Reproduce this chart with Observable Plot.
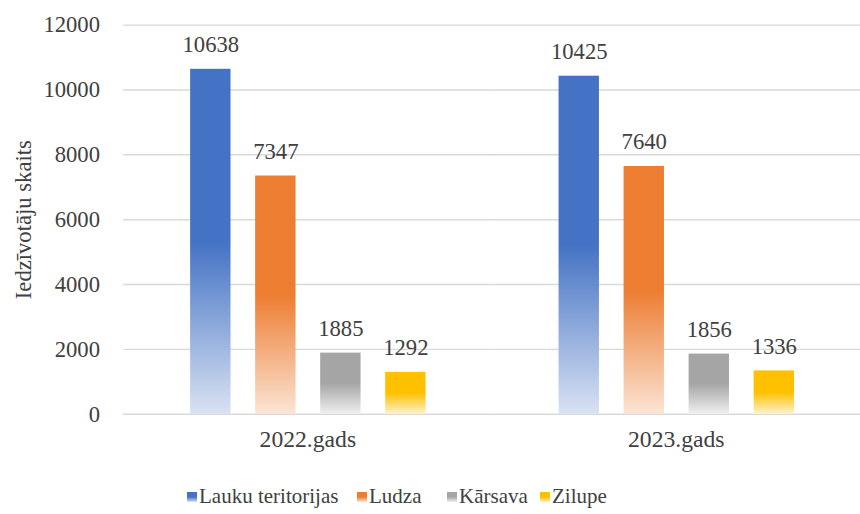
<!DOCTYPE html>
<html>
<head>
<meta charset="utf-8">
<script src="https://cdn.jsdelivr.net/npm/d3@7"></script>
<script src="https://cdn.jsdelivr.net/npm/@observablehq/plot@0.6"></script>
<style>
  body { margin: 0; background: #fff; overflow: hidden; width: 860px; height: 514px; }
  #chart { position: relative; width: 860px; height: 514px; }
  .legend { position: absolute; left: 0; top: 484px; width: 860px; height: 28px; font-family: "Liberation Serif", "Times New Roman", serif; font-size: 21px; color: #404040; }
  .legend .item { position: absolute; top: 0; display: flex; align-items: center; white-space: nowrap; }
  .legend .sw { width: 10px; height: 10px; margin-right: 2px; }
</style>
</head>
<body>
<div id="chart"></div>
<script>
const years = ["2022.gads", "2023.gads"];
const series = ["Lauku teritorijas", "Ludza", "Kārsava", "Zilupe"];
const values2022 = [10638, 7347, 1885, 1292];
const values2023 = [10425, 7640, 1856, 1336];
const colors = ["#4472C4", "#ED7D31", "#A5A5A5", "#FFC000"];
const lightColors = ["#D9E2F3", "#FBE4D5", "#F0F0F0", "#FFF2CC"];
const yTicks = [0, 2000, 4000, 6000, 8000, 10000, 12000];

const data = [];
[values2022, values2023].forEach((vals, yi) => {
  vals.forEach((v, si) => data.push({year: years[yi], series: series[si], value: v, grad: `url(#grad${si})`}));
});

const font = "'Liberation Serif', 'Times New Roman', serif";

const plot = Plot.plot({
  width: 873,
  height: 470,
  marginLeft: 125,
  marginRight: 0,
  marginTop: 25,
  marginBottom: 50,
  style: {fontFamily: font, fontSize: "23px", color: "#404040", background: "white"},
  fx: {domain: years, padding: 0, label: null},
  x: {domain: series, paddingInner: 0.38, paddingOuter: 1.02, axis: null},
  y: {domain: [0, 12000], ticks: yTicks, label: "Iedzīvotāju skaits"},
  color: {type: "identity"},
  marks: [
    Plot.gridY(yTicks.filter(t => t > 0), {stroke: "#d9d9d9", strokeOpacity: 1, strokeWidth: 1.5}),
    Plot.ruleY([0], {stroke: "#d9d9d9", strokeWidth: 1.5}),
    Plot.axisY({ticks: yTicks, tickSize: 0, tickPadding: 24, tickFormat: d => String(d), label: "Iedzīvotāju skaits", labelArrow: false, labelAnchor: "center", labelOffset: 110, fontSize: 23, fill: "#404040"}),
    Plot.axisFx({anchor: "bottom", tickSize: 0, tickPadding: 16, label: null, fontSize: 24, fill: "#404040"}),
    Plot.barY(data, {fx: "year", x: "series", y: "value", fill: "grad"}),
    Plot.text(data, {fx: "year", x: "series", y: "value", text: d => String(d.value), dy: -25, fill: "#404040", fontSize: 23})
  ]
});

const ns = "http://www.w3.org/2000/svg";
const defs = document.createElementNS(ns, "defs");
colors.forEach((c, i) => {
  const g = document.createElementNS(ns, "linearGradient");
  g.setAttribute("id", `grad${i}`);
  g.setAttribute("x1", "0"); g.setAttribute("y1", "0");
  g.setAttribute("x2", "0"); g.setAttribute("y2", "1");
  [[0, c], [0.5, c], [1, lightColors[i]]].forEach(([o, col]) => {
    const s = document.createElementNS(ns, "stop");
    s.setAttribute("offset", o);
    s.setAttribute("stop-color", col);
    g.appendChild(s);
  });
  defs.appendChild(g);
});
plot.insertBefore(defs, plot.firstChild);

const chart = document.getElementById("chart");
chart.appendChild(plot);

const legendLeft = [187, 357, 447, 540];
const legend = document.createElement("div");
legend.className = "legend";
series.forEach((s, i) => {
  const item = document.createElement("div");
  item.className = "item";
  item.style.left = legendLeft[i] + "px";
  const sw = document.createElement("span");
  sw.className = "sw";
  sw.style.background = `linear-gradient(${colors[i]} 50%, ${lightColors[i]})`;
  const t = document.createElement("span");
  t.textContent = s;
  item.appendChild(sw); item.appendChild(t);
  legend.appendChild(item);
});
chart.appendChild(legend);
</script>
</body>
</html>
